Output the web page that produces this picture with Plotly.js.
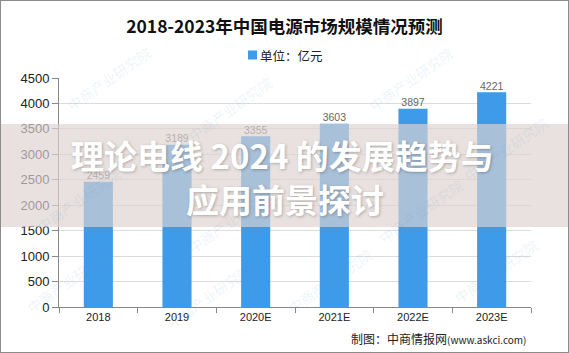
<!DOCTYPE html>
<html><head><meta charset="utf-8">
<script src="https://cdn.plot.ly/plotly-3.0.1.min.js"></script>
<style>
html,body{margin:0;padding:0;background:#fff;}
#wrap{position:relative;width:569px;height:353px;box-sizing:border-box;border:1px solid #8c8c8c;overflow:hidden;}
#chart{position:absolute;left:-1px;top:-1px;width:569px;height:353px;}
</style></head>
<body><div id="wrap"><div id="chart"></div></div>
<script>
const years = ["2018","2019","2020E","2021E","2022E","2023E"];
const values = [2459,3189,3355,3603,3897,4221];
const yTicks = [0,500,1000,1500,2000,2500,3000,3500,4000,4500];
const chartTitle = "2018-2023年中国电源市场规模情况预测";
const seriesName = "单位：亿元";
const source = "制图：中商情报网<span style='font-size:10px'>(www.askci.com)</span>";
const bannerLines = ["理论电线 2024 的发展趋势与","应用前景探讨"];
const watermark = "中商产业研究院";

const W=569,H=353,L=59,R=38,T=78,B=46;
const pw=W-L-R, ph=H-T-B;
const px=x=>(x-L)/pw, py=y=>(H-B-y)/ph;

const annotations=[];
const wm=[[60,40],[230,70],[460,40],[555,110],[30,200],[230,260],[470,250],[20,320],[160,335],[330,320],[545,310]];
wm.forEach(p=>annotations.push({xref:'paper',yref:'paper',x:px(p[0]),y:py(p[1]),text:watermark,showarrow:false,textangle:-35,
  font:{family:'Noto Sans CJK SC',size:14,color:'rgba(90,150,210,0.12)'}}));
annotations.push({xref:'paper',yref:'paper',x:px(258),y:py(55),xanchor:'left',yanchor:'middle',text:seriesName,showarrow:false,
  font:{family:'Noto Sans CJK SC',size:12.5,color:'#222'}});
annotations.push({xref:'paper',yref:'paper',x:px(528),y:py(338),xanchor:'right',yanchor:'middle',text:source,showarrow:false,
  font:{family:'Noto Sans CJK SC',size:12,color:'#222'}});
annotations.push({xref:'paper',yref:'paper',x:px(282),y:py(155),text:bannerLines[0],showarrow:false,xanchor:'center',yanchor:'middle',
  font:{family:'Noto Sans CJK SC',size:33,weight:700,color:'#ffffff',shadow:'1px 1px 3px rgba(0,0,0,0.25)'}});
annotations.push({xref:'paper',yref:'paper',x:px(285),y:py(199),text:bannerLines[1],showarrow:false,xanchor:'center',yanchor:'middle',
  font:{family:'Noto Sans CJK SC',size:33,weight:700,color:'#ffffff',shadow:'1px 1px 3px rgba(0,0,0,0.25)'}});

const data=[{
  type:'bar', x:years, y:values, name:seriesName,
  marker:{color:'#3d9be9'}, width:0.37, hoverinfo:'skip'
},{
  type:'scatter', mode:'text', x:years, y:values, text:values.map(String),
  textposition:'top center', cliponaxis:false, showlegend:false,
  textfont:{family:'Liberation Sans',size:10.5,color:'#666'}, hoverinfo:'skip'
}];
const layout={
  width:W,height:H,margin:{l:L,r:R,t:T,b:B,pad:0},
  paper_bgcolor:'rgba(0,0,0,0)',plot_bgcolor:'rgba(0,0,0,0)',
  title:{text:chartTitle,x:0.5,xref:'container',xanchor:'center',y:1-27/H,yanchor:'middle',
    font:{family:'Noto Sans CJK SC',size:17.5,weight:700,color:'#111'}},
  showlegend:false,
  xaxis:{type:'category',tickson:'boundaries',ticks:'outside',ticklen:5,tickcolor:'#888',
    showline:true,linecolor:'#888',linewidth:1,showgrid:false,
    tickfont:{family:'Liberation Sans',size:11,color:'#222'}},
  yaxis:{range:[0,4500],tickvals:yTicks,ticks:'outside',ticklen:6,tickcolor:'#888',
    showline:true,linecolor:'#888',linewidth:1,gridcolor:'#dcdcdc',zeroline:false,
    tickfont:{family:'Liberation Sans',size:13,color:'#222'}},
  bargap:0.63,
  shapes:[
    {type:'rect',xref:'paper',yref:'paper',x0:px(248),x1:px(257),y0:py(59.5),y1:py(50.5),fillcolor:'#3d9be9',line:{width:0}},
    {type:'rect',xref:'paper',yref:'paper',x0:px(-2),x1:px(572),y0:py(227),y1:py(124),
    fillcolor:'rgba(220,210,208,0.67)',line:{width:0},layer:'above'}],
  annotations:annotations
};
Plotly.newPlot('chart',data,layout,{staticPlot:true,displayModeBar:false});
</script></body></html>
